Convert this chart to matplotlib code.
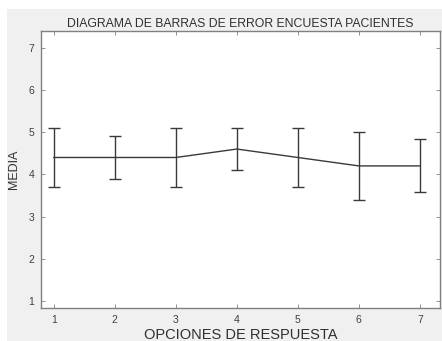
import numpy as np
import matplotlib.pyplot as plt
from matplotlib.patches import Rectangle

# datos
opciones = [1, 2, 3, 4, 5, 6, 7]
medias = [4.4, 4.4, 4.4, 4.6, 4.4, 4.2, 4.2]
errores = [0.7, 0.5, 0.7, 0.5, 0.7, 0.8, 0.63]

plt.rcParams['font.family'] = ['Liberation Sans', 'DejaVu Sans']

fig = plt.figure(figsize=(4.42, 3.41), dpi=100, facecolor='white')
# fondo gris de la ventana
fig.patches.append(Rectangle((7/442, 0), 1, 1 - 9/341, transform=fig.transFigure,
                             facecolor='#f0f0f0', edgecolor='none', zorder=-1))

ax = fig.add_axes([41/442, 33/341, 399/442, 277/341])
ax.set_facecolor('white')
ax.errorbar(opciones, medias, yerr=errores, color='#3a3a3a', lw=1.0,
            capsize=4, capthick=1.0, elinewidth=1.0)

ax.set_xlim(0.79, 7.33)
ax.set_ylim(0.83, 7.4)
ax.set_xticks(opciones)
ax.set_yticks([1, 2, 3, 4, 5, 6, 7])
ax.tick_params(direction='in', length=3, width=0.6, colors='#808080',
               labelcolor='#404040', labelsize=7.5, top=True, right=True, pad=5)
for s in ax.spines.values():
    s.set_color('#808080')
    s.set_linewidth(1.0)

ax.set_title('DIAGRAMA DE BARRAS DE ERROR ENCUESTA PACIENTES', fontsize=8.8,
             color='#303030', pad=3)
ax.set_xlabel('OPCIONES DE RESPUESTA', fontsize=10.5, color='#303030', labelpad=2)
ax.set_ylabel('MEDIA', fontsize=9, color='#303030', labelpad=6)

fig.savefig('out.png', dpi=100, facecolor=fig.get_facecolor())
